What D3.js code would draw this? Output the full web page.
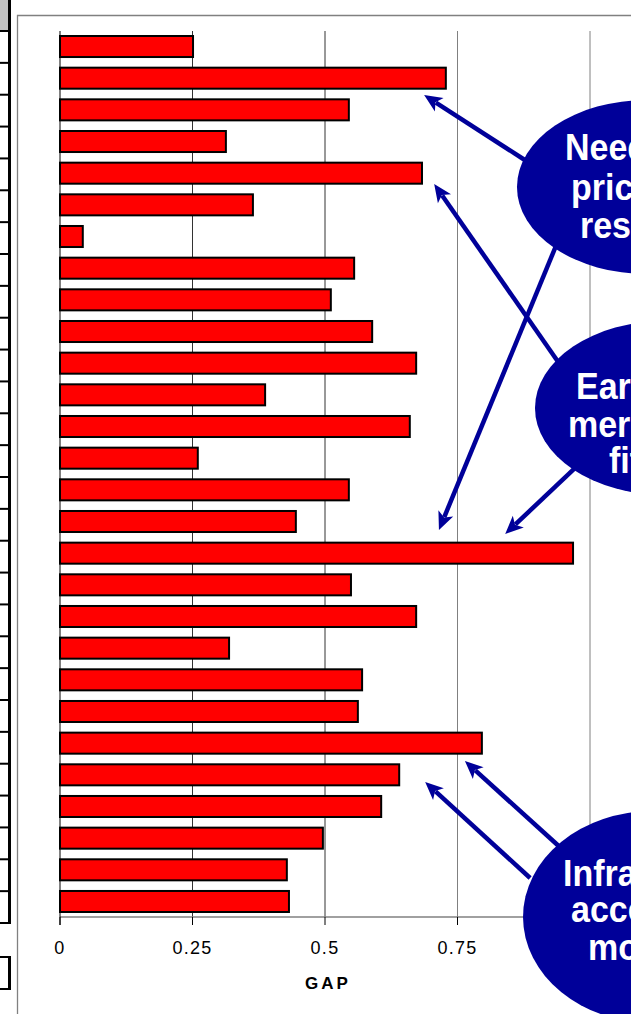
<!DOCTYPE html>
<html>
<head>
<meta charset="utf-8">
<script src="https://cdn.jsdelivr.net/npm/d3@7/dist/d3.min.js"></script>
<style>
html, body { margin: 0; padding: 0; background: #fff; }
svg { display: block; font-family: "Liberation Sans", Arial, sans-serif; }
</style>
</head>
<body>
<script>
// ---- data ----
const categories = ["1","2","3","4","5","6","7","8","9","10","11","12","13","14",
  "15","16","17","18","19","20","21","22","23","24","25","26","27","28"];
const gapValues = [0.251, 0.728, 0.545, 0.313, 0.683, 0.364, 0.043, 0.555, 0.511, 0.589,
  0.672, 0.387, 0.660, 0.260, 0.545, 0.445, 0.968, 0.549, 0.672, 0.319,
  0.570, 0.562, 0.796, 0.640, 0.606, 0.496, 0.428, 0.432];
const xTicks = [0, 0.25, 0.5, 0.75, 1];
const xTickLabels = ["0", "0.25", "0.5", "0.75", "1"];
const axisTitle = "GAP";

// callouts in data space (value, row)
const calloutCentres = [
  { v: 1.1075, r: 4.93 },
  { v: 1.1415, r: 11.914 },
  { v: 1.1189, r: 28.0 }
];
const calloutLines = [
  ["Need", "pricing", "research"],
  ["Early", "mergers", "fit"],
  ["Infrastructure", "access", "model"]
];
const arrowStarts = [
  { v: 0.877, r: 4.077 }, { v: 0.940, r: 10.460 }, { v: 0.938, r: 6.700 },
  { v: 0.972, r: 13.810 }, { v: 0.943, r: 25.788 }, { v: 0.887, r: 26.768 }
];
const arrowTips = [
  { v: 0.687, r: 2.023 }, { v: 0.706, r: 4.835 }, { v: 0.715, r: 15.770 },
  { v: 0.840, r: 15.896 }, { v: 0.764, r: 23.070 }, { v: 0.689, r: 23.734 }
];

// ---- layout ----
const W = 631, H = 1014;
const pL = 60, pR = 590, pT = 31, pB = 917;
const NAVY = "#000099";

const svg = d3.select("body").append("svg").attr("width", W).attr("height", H);

const x = d3.scaleLinear().domain([0, 1]).range([pL, pR]);
const y = d3.scaleBand().domain(categories).range([pT, pB])
  .paddingInner(0.336).paddingOuter(0.158);
const row = d3.scaleLinear().domain([0, categories.length]).range([pT, pB]);

// spreadsheet fragment at far left
const sheetRows = d3.range(29);
const sheetY = d3.scaleLinear().domain([0, 28]).range([31, 923]);
svg.append("rect").attr("x", 0).attr("y", 0).attr("width", 8).attr("height", 30).attr("fill", "#c0c0c0");
svg.append("rect").attr("x", 8).attr("y", 0).attr("width", 3).attr("height", 924).attr("fill", "#000");
svg.selectAll("rect.sheetline").data(sheetRows).join("rect").attr("class", "sheetline")
  .attr("x", 0).attr("y", d => sheetY(d) - 1).attr("width", 10).attr("height", 2).attr("fill", "#000");
svg.append("rect").attr("x", 0).attr("y", 956).attr("width", 10).attr("height", 2).attr("fill", "#000");
svg.append("rect").attr("x", 0).attr("y", 988).attr("width", 10).attr("height", 2).attr("fill", "#000");
svg.append("rect").attr("x", 8).attr("y", 956).attr("width", 3).attr("height", 34).attr("fill", "#000");

// chart frame
svg.append("path").attr("d", `M17.5,${H + 5}V15.5H${W + 5}`)
  .attr("fill", "none").attr("stroke", "#808080").attr("stroke-width", 1.3);

// gridlines
const gridColor = t => (t <= 0.5 ? "#333" : "#808080");
svg.selectAll("line.grid").data(xTicks.filter(t => t > 0)).join("line").attr("class", "grid")
  .attr("x1", d => x(d)).attr("x2", d => x(d)).attr("y1", pT).attr("y2", pB)
  .attr("stroke", gridColor).attr("stroke-width", 1);

// x axis
svg.append("line").attr("x1", pL).attr("x2", W + 5).attr("y1", pB).attr("y2", pB)
  .attr("stroke", "#808080").attr("stroke-width", 1.5);
svg.selectAll("line.tick").data(xTicks).join("line").attr("class", "tick")
  .attr("x1", d => x(d)).attr("x2", d => x(d)).attr("y1", pB).attr("y2", pB + 8)
  .attr("stroke", "#000").attr("stroke-width", 1);
svg.selectAll("text.ticklabel").data(xTicks).join("text").attr("class", "ticklabel")
  .attr("x", d => x(d)).attr("y", 954).attr("text-anchor", "middle")
  .attr("font-size", 18).attr("letter-spacing", 1.3).attr("fill", "#000")
  .text((d, i) => xTickLabels[i]);
svg.append("text").attr("x", (pL + pR) / 2 + 3).attr("y", 989).attr("text-anchor", "middle")
  .attr("font-size", 17).attr("font-weight", "bold").attr("letter-spacing", 3).text(axisTitle);

// y axis line
svg.append("line").attr("x1", pL).attr("x2", pL).attr("y1", pT).attr("y2", pB + 8)
  .attr("stroke", "#000").attr("stroke-width", 1);

// bars
svg.selectAll("rect.bar").data(gapValues).join("rect").attr("class", "bar")
  .attr("x", x(0)).attr("y", (d, i) => y(categories[i]))
  .attr("width", d => x(d) - x(0)).attr("height", y.bandwidth())
  .attr("fill", "#ff0000").attr("stroke", "#000").attr("stroke-width", 2);

// arrows
const P = p => [x(p.v), row(p.r)];
arrowStarts.forEach((s, i) => {
  const [x0, y0] = P(s), [x1, y1] = P(arrowTips[i]);
  const ang = Math.atan2(y1 - y0, x1 - x0);
  const L = 18, hw = 8;
  const bx = x1 - L * Math.cos(ang), by = y1 - L * Math.sin(ang);
  svg.append("line").attr("x1", x0).attr("y1", y0)
    .attr("x2", x1 - (L - 4) * Math.cos(ang)).attr("y2", y1 - (L - 4) * Math.sin(ang))
    .attr("stroke", NAVY).attr("stroke-width", 4.5);
  const px = -Math.sin(ang) * hw, py = Math.cos(ang) * hw;
  svg.append("path")
    .attr("d", `M${x1},${y1}L${bx + px},${by + py}L${bx + 0.25 * L * Math.cos(ang)},${by + 0.25 * L * Math.sin(ang)}L${bx - px},${by - py}Z`)
    .attr("fill", NAVY);
});

// callout ellipses
const ellR = [[130, 87], [130, 87], [130, 106]];
const lineOffsets = [
  [[-82, -27], [-76, 13], [-67, 51]],
  [[-89, -9], [-97, 29], [-56, 65]],
  [[-90, -31], [-82, 5], [-65, 43]]
];
calloutCentres.forEach((c, i) => {
  const [cx, cy] = P(c);
  svg.append("ellipse").attr("cx", cx).attr("cy", cy)
    .attr("rx", ellR[i][0]).attr("ry", ellR[i][1]).attr("fill", NAVY);
  calloutLines[i].forEach((t, j) => {
    const [dx, dy] = lineOffsets[i][j];
    svg.append("text").attr("transform", `translate(${cx + dx},${cy + dy}) scale(1,1.08)`)
      .attr("font-size", 34).attr("font-weight", "bold").attr("fill", "#fff").text(t);
  });
});
</script>
</body>
</html>
